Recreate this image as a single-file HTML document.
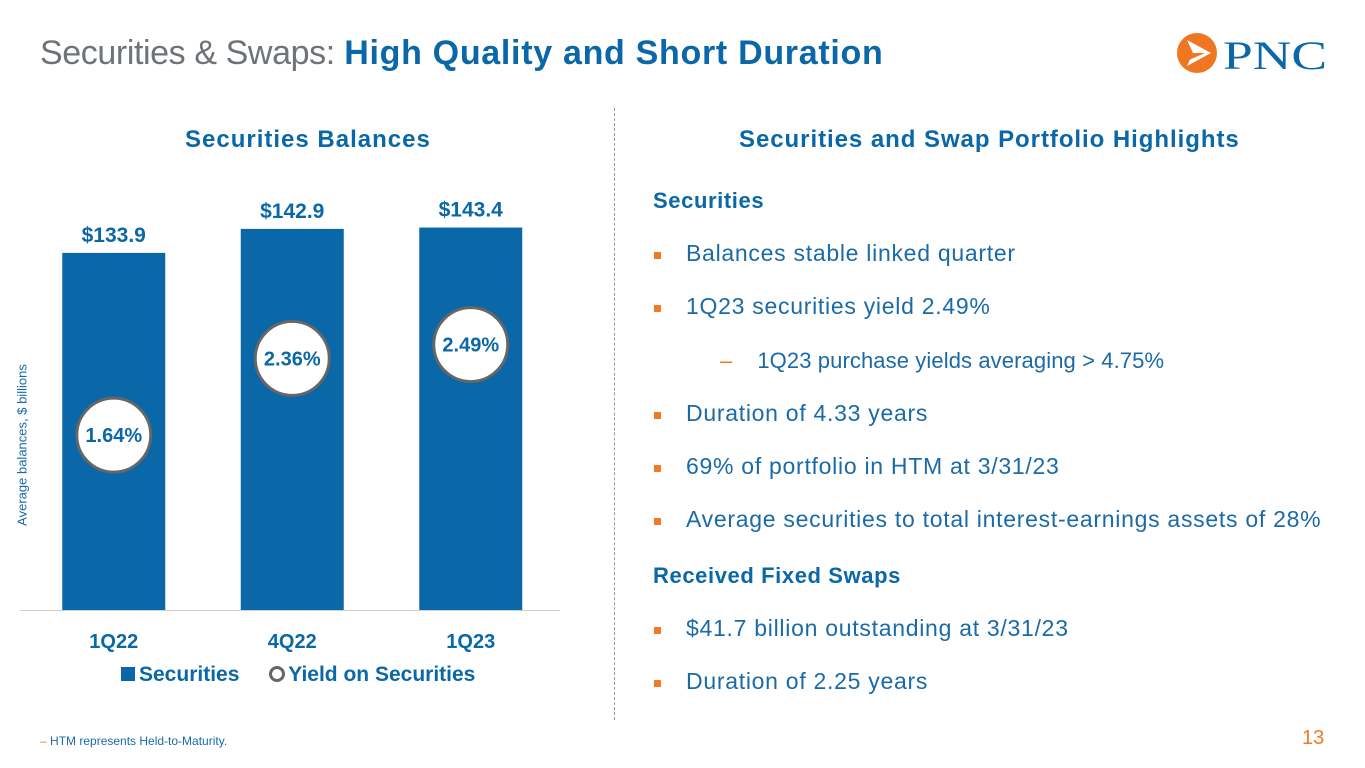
<!DOCTYPE html>
<html><head><meta charset="utf-8"><style>
*{margin:0;padding:0;box-sizing:border-box}
body{width:1365px;height:768px;background:#fff;font-family:"Liberation Sans",sans-serif;position:relative;overflow:hidden}
.abs{position:absolute;white-space:nowrap}
.blue{color:#0a67a8}
.li{position:absolute;left:686px;font-size:23px;letter-spacing:0.72px;color:#1a6aa8;white-space:nowrap}
.sq{position:absolute;left:654px;width:7px;height:7px;background:#f07b22}
</style></head><body>
<div class="abs" style="left:40px;top:34px;font-size:34px;color:#6e7378"><span style="letter-spacing:-0.4px">Securities &amp; Swaps:</span> <b class="blue" style="color:#0a67a8;letter-spacing:0.7px">High Quality and Short Duration</b></div>
<div class="abs" style="left:1175px;top:30px;width:155px;height:48px">
<svg width="155" height="48" viewBox="0 0 155 48"><circle cx="22" cy="23" r="20" fill="#ef7622"/><polygon points="12,10 36,23 12,36 18,23" fill="#fff"/><polygon points="18,23 30,23 14,30" fill="#ef7622"/><text x="48" y="39" font-family="Liberation Serif,serif" font-size="40" fill="#0a67a8" textLength="104" lengthAdjust="spacingAndGlyphs">PNC</text></svg></div>
<div class="abs" style="left:185px;top:126px;font-size:24px;font-weight:bold;color:#0a67a8;letter-spacing:1.0px">Securities Balances</div>
<div class="abs" style="left:739px;top:126px;font-size:24px;font-weight:bold;color:#0a67a8;letter-spacing:0.95px">Securities and Swap Portfolio Highlights</div>
<div class="abs" style="left:614px;top:108px;height:612px;border-left:1px dashed #9a9a9a"></div>
<svg id="chart" class="abs" style="left:0;top:0" width="610" height="700"></svg>
<div class="abs" style="top:445px;font-size:13px;color:#1a6aa8;transform:translate(-50%,-50%) rotate(-90deg);transform-origin:center;left:22px">Average balances, $ billions</div>
<div class="abs" style="left:121px;top:663px;font-size:21px;font-weight:bold;color:#0a67a8">
<span><span style="display:inline-block;width:14px;height:14px;background:#0a67a8;margin-right:4px"></span>Securities</span>
<span style="margin-left:24px"><span style="display:inline-block;width:16px;height:16px;border:3px solid #666;border-radius:50%;margin-right:3px;vertical-align:-1px"></span>Yield on Securities</span></div>
<div class="abs" style="left:653px;top:188px;font-size:22px;font-weight:bold;color:#0a67a8;letter-spacing:0.6px">Securities</div>
<div class="sq" style="top:252px"></div><div class="li" style="top:240px">Balances stable linked quarter</div>
<div class="sq" style="top:305px"></div><div class="li" style="top:293px">1Q23 securities yield 2.49%</div>
<div class="abs" style="top:348px;left:720px;font-size:22px;color:#1a6aa8;letter-spacing:0.1px"><span style="color:#f07b22;margin-right:25px">–</span>1Q23 purchase yields averaging &gt; 4.75%</div>
<div class="sq" style="top:412px"></div><div class="li" style="top:400px">Duration of 4.33 years</div>
<div class="sq" style="top:465px"></div><div class="li" style="top:453px">69% of portfolio in HTM at 3/31/23</div>
<div class="sq" style="top:518px"></div><div class="li" style="top:506px">Average securities to total interest-earnings assets of 28%</div>
<div class="abs" style="left:653px;top:563px;font-size:22px;font-weight:bold;color:#0a67a8;letter-spacing:0.6px">Received Fixed Swaps</div>
<div class="sq" style="top:627px"></div><div class="li" style="top:615px">$41.7 billion outstanding at 3/31/23</div>
<div class="sq" style="top:680px"></div><div class="li" style="top:668px">Duration of 2.25 years</div>
<div class="abs" style="left:40px;top:734px;font-size:12px;color:#1a6aa8"><span style="color:#f07b22">–</span> HTM represents Held-to-Maturity.</div>
<div class="abs" style="left:1302px;top:727px;font-size:20px;color:#f07b22">13</div>
<script>
const categories=["1Q22","4Q22","1Q23"];
const balances=[133.9,142.9,143.4];
const balanceLabels=["$133.9","$142.9","$143.4"];
const yields=[1.64,2.36,2.49];
const yieldLabels=["1.64%","2.36%","2.49%"];
const svg=document.getElementById('chart');const NS='http://www.w3.org/2000/svg';
const base=610,x0=25,step=178.5,bw=103;
const yB=v=>base-v*2.667;const yY=v=>base-v*106.6;
const xC=i=>x0+step*(i+0.5)-0.5;
function mk(t,a){const e=document.createElementNS(NS,t);for(const k in a)e.setAttribute(k,a[k]);svg.appendChild(e);return e;}
const ax=mk('line',{x1:20,x2:560,y1:base+0.5,y2:base+0.5,stroke:'#d0d0d0','stroke-width':1});


categories.forEach((c,i)=>{
const cx=xC(i);
const r=mk('rect',{x:cx-bw/2,y:yB(balances[i]),width:bw,height:base-yB(balances[i]),fill:'#0a67a8'});


const t=mk('text',{x:cx,y:yB(balances[i])-11,'text-anchor':'middle','font-size':21,'font-weight':'bold',fill:'#0a67a8','font-family':'Liberation Sans'});t.textContent=balanceLabels[i];


const ci=mk('circle',{cx:cx,cy:yY(yields[i]),r:37,fill:'#fff',stroke:'#666','stroke-width':3});


const yt=mk('text',{x:cx,y:yY(yields[i])+7,'text-anchor':'middle','font-size':20,'font-weight':'bold',fill:'#0a67a8','font-family':'Liberation Sans'});yt.textContent=yieldLabels[i];


const xl=mk('text',{x:cx,y:648,'text-anchor':'middle','font-size':20,'font-weight':'bold',fill:'#0a67a8','font-family':'Liberation Sans'});xl.textContent=c;


});
</script>
</body></html>
